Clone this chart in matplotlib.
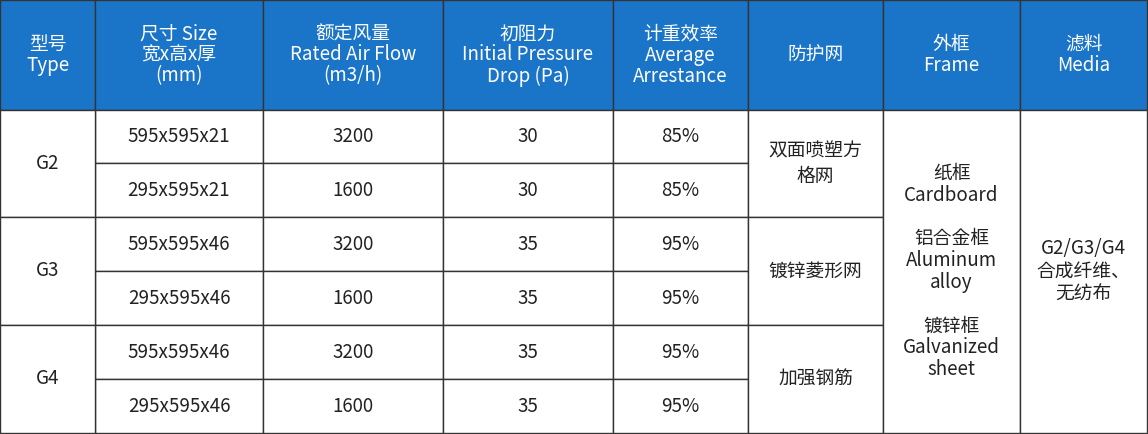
import matplotlib
matplotlib.use("Agg")
import matplotlib.pyplot as plt
from matplotlib.patches import Rectangle

headers = ["型号\nType", "尺寸 Size\n宽x高x厚\n(mm)", "额定风量\nRated Air Flow\n(m3/h)",
           "初阻力\nInitial Pressure\nDrop (Pa)", "计重效率\nAverage\nArrestance",
           "防护网", "外框\nFrame", "滤料\nMedia"]
types = ["G2", "G3", "G4"]
sizes = ["595x595x21", "295x595x21", "595x595x46", "295x595x46", "595x595x46", "295x595x46"]
flows = ["3200", "1600", "3200", "1600", "3200", "1600"]
pressure = ["30", "30", "35", "35", "35", "35"]
arrestance = ["85%", "85%", "95%", "95%", "95%", "95%"]
mesh = ["双面喷塑方\n格网", "镀锌菱形网", "加强钢筋"]
frame = "纸框\nCardboard\n\n铝合金框\nAluminum\nalloy\n\n镀锌框\nGalvanized\nsheet"
media = "G2/G3/G4\n合成纤维、\n无纺布"

W, H = 1148, 434
cols = [0, 95, 263, 443, 613, 748, 883, 1020, 1147]
rows = [0, 110, 163, 217, 271, 325, 379, 433]
blue = "#1a75c9"
font = ["Noto Sans CJK SC", "Noto Sans CJK JP", "Noto Sans CJK TC", "Noto Sans CJK KR", "DejaVu Sans"]
plt.rcParams["font.family"] = font

fig = plt.figure(figsize=(W/100, H/100), dpi=100)
ax = fig.add_axes([0, 0, 1, 1])
ax.set_xlim(0, W); ax.set_ylim(H, 0); ax.axis("off")

def cell(x0, x1, y0, y1, text, fc="white", tc="#222222", ls=1.0):
    ax.add_patch(Rectangle((x0, y0), x1-x0, y1-y0, facecolor=fc, edgecolor="#333333", lw=1))
    ax.text((x0+x1)/2, (y0+y1)/2, text, ha="center", va="center", color=tc,
            fontsize=13.5, linespacing=ls)

for i, h in enumerate(headers):
    cell(cols[i], cols[i+1], rows[0], rows[1], h, fc=blue, tc="white", ls=1.0)
for r in range(6):
    y0, y1 = rows[r+1], rows[r+2]
    for c, vals in zip(range(1, 5), [sizes, flows, pressure, arrestance]):
        cell(cols[c], cols[c+1], y0, y1, vals[r])
for g in range(3):
    y0, y1 = rows[1+2*g], rows[3+2*g]
    cell(cols[0], cols[1], y0, y1, types[g])
    cell(cols[5], cols[6], y0, y1, mesh[g], ls=1.3)
cell(cols[6], cols[7], rows[1], rows[7], frame, ls=1.05)
cell(cols[7], cols[8], rows[1], rows[7], media, ls=1.1)

fig.savefig("out.png", dpi=100)
